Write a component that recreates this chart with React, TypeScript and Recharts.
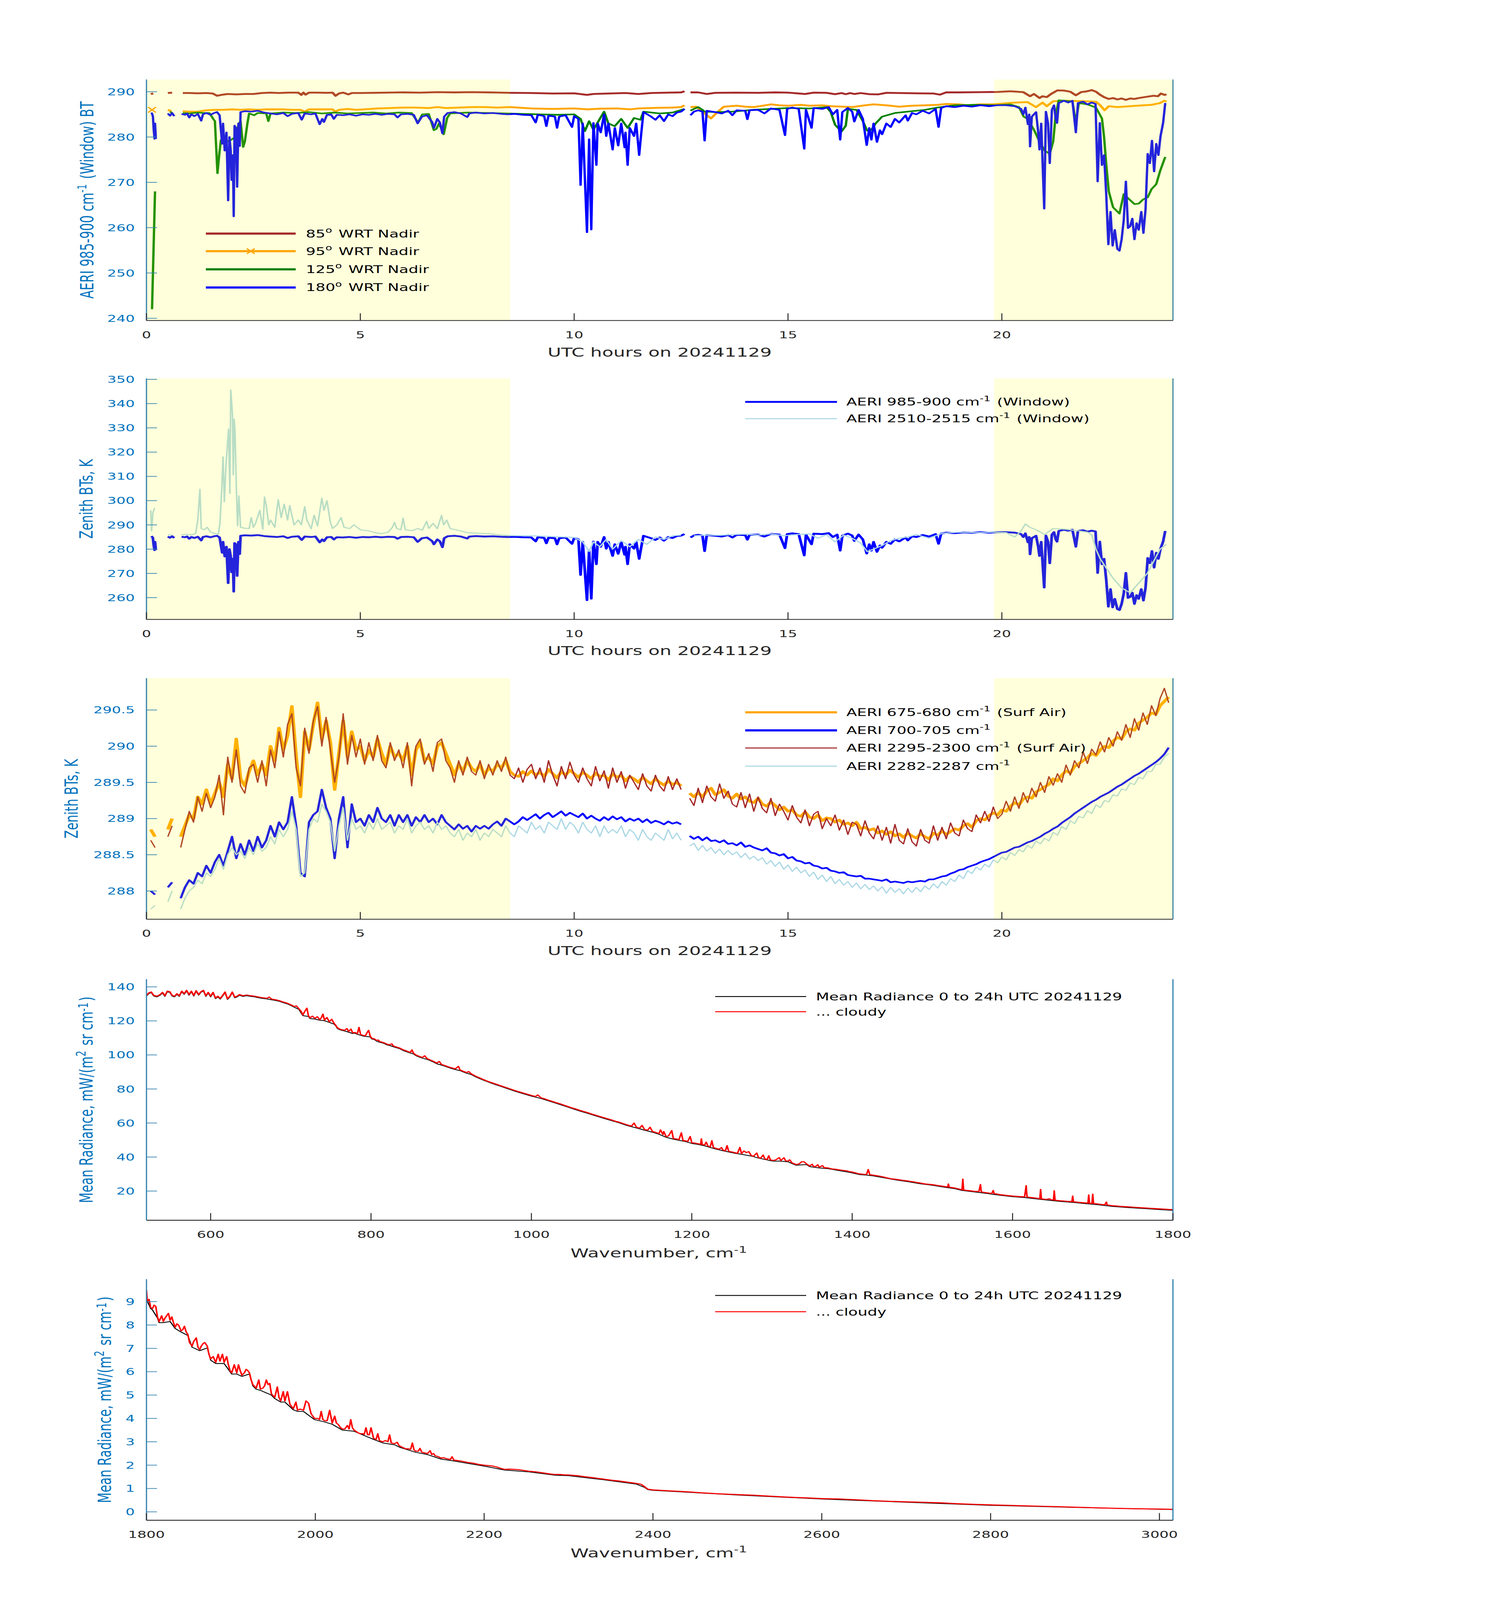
import React from 'react'
import { LineChart, Line, XAxis, YAxis, ReferenceArea, ReferenceLine } from 'recharts'

document.body.style.margin = '0'

type Pt = [number, number | null]

// Panel 1: AERI 985-900 cm-1 window BT at four scene mirror angles (hour, K)
const bt85: Pt[] = [
  [0.1, 289.5], [0.16, 289.6], [0.3, null], [0.5, 289.7], [0.6, 289.8], [0.7, null],
  [0.85, 289.7], [1.0, 289.7], [1.2, 289.65], [1.4, 289.7], [1.55, 289.6], [1.65, 289.1], [1.75, 289.3],
  [1.9, 289.5], [2.1, 289.4], [2.3, 289.5], [2.5, 289.5], [2.7, 289.7], [2.9, 289.8], [3.1, 289.7],
  [3.3, 289.8], [3.55, 289.8], [3.62, 289.3], [3.67, 289.8], [3.72, 289.35], [3.8, 289.8], [4.0, 289.8],
  [4.2, 289.75], [4.35, 289.8], [4.42, 289.1], [4.5, 289.6], [4.6, 289.8], [4.72, 289.4], [4.8, 289.7],
  [5.0, 289.7], [5.3, 289.75], [5.6, 289.8], [6.0, 289.85], [6.4, 289.8], [6.8, 289.9], [7.2, 289.85],
  [7.6, 289.9], [8.0, 289.85], [8.5, 289.75], [9.0, 289.7], [9.5, 289.6], [10.0, 289.65], [10.3, 289.3],
  [10.45, 289.5], [10.8, 289.6], [11.2, 289.7], [11.5, 289.5], [11.8, 289.7], [12.2, 289.8], [12.5, 289.85],
  [12.58, 290.1], [12.65, null], [12.72, 289.85], [12.9, 289.85], [13.1, 289.5], [13.3, 289.75], [13.8, 289.8],
  [14.3, 289.75], [14.7, 289.85], [15.0, 289.8], [15.4, 289.5], [15.6, 289.8], [15.9, 289.75], [16.1, 289.45],
  [16.25, 289.7], [16.35, 289.45], [16.45, 289.7], [16.55, 289.5], [16.7, 289.7], [16.9, 289.45], [17.1, 289.4],
  [17.3, 289.75], [17.6, 289.7], [18.0, 289.65], [18.4, 289.6], [18.55, 289.35], [18.7, 289.85], [19.0, 289.85],
  [19.5, 289.9], [19.9, 289.95], [20.2, 290.1], [20.5, 289.9], [20.66, 289.0], [20.75, 289.5], [20.88, 288.6],
  [20.95, 289.0], [21.05, 288.8], [21.15, 289.5], [21.3, 290.3], [21.45, 290.25], [21.6, 290.0], [21.73, 289.2],
  [21.85, 289.9], [22.0, 290.1], [22.1, 290.35], [22.2, 290.0], [22.3, 289.3], [22.39, 288.8], [22.5, 288.4],
  [22.6, 288.6], [22.7, 288.3], [22.8, 288.5], [22.9, 288.2], [23.0, 288.5], [23.1, 288.4], [23.2, 288.6],
  [23.4, 288.9], [23.55, 289.1], [23.65, 289.0], [23.72, 289.6], [23.8, 289.3], [23.85, 289.4],
]

const bt95: Pt[] = [
  [0.13, 286.0], [0.2, null], [0.5, 286.0], [0.58, 285.7], [0.7, null],
  [0.85, 285.7], [1.0, 285.6], [1.2, 285.6], [1.4, 285.9], [1.6, 286.0], [1.8, 286.0], [2.0, 286.1],
  [2.2, 286.0], [2.4, 286.1], [2.6, 286.0], [2.8, 286.1], [3.0, 286.1], [3.2, 286.1], [3.4, 286.0],
  [3.6, 286.0], [3.7, 285.6], [3.8, 286.1], [4.0, 286.1], [4.2, 286.1], [4.35, 286.1], [4.42, 285.6],
  [4.5, 286.0], [4.7, 286.2], [4.9, 286.0], [5.1, 286.1], [5.4, 286.3], [5.7, 286.4], [6.0, 286.5],
  [6.3, 286.5], [6.6, 286.4], [6.8, 286.6], [7.0, 286.4], [7.3, 286.5], [7.6, 286.6], [7.9, 286.6],
  [8.2, 286.5], [8.5, 286.6], [9.0, 286.3], [9.5, 286.2], [10.0, 286.3], [10.3, 286.1], [10.6, 286.25],
  [11.0, 286.3], [11.3, 286.1], [11.5, 286.3], [12.0, 286.45], [12.3, 286.5], [12.5, 286.6], [12.58, 287.0],
  [12.65, null], [12.72, 286.6], [12.85, 286.7], [12.95, 286.0], [13.1, 284.8], [13.2, 284.1], [13.35, 285.5],
  [13.5, 286.7], [13.8, 286.9], [14.0, 286.7], [14.2, 286.6], [14.4, 286.9], [14.6, 287.2], [14.8, 287.0],
  [15.0, 286.9], [15.3, 287.1], [15.5, 286.9], [15.8, 287.0], [16.0, 286.8], [16.3, 286.7], [16.5, 286.6],
  [16.8, 287.0], [17.0, 287.2], [17.3, 287.0], [17.6, 286.7], [17.9, 286.9], [18.2, 287.0], [18.5, 287.1],
  [18.7, 287.3], [19.0, 287.2], [19.2, 287.0], [19.5, 287.2], [19.8, 287.2], [20.3, 287.6], [20.6, 287.7],
  [20.8, 286.6], [20.95, 287.6], [21.05, 286.8], [21.2, 287.9], [21.5, 288.0], [21.9, 287.9], [22.2, 287.8],
  [22.3, 287.0], [22.4, 285.9], [22.5, 286.8], [22.7, 286.6], [23.0, 286.8], [23.3, 287.0], [23.5, 287.1],
  [23.7, 287.5], [23.8, 288.0], [23.85, 287.8],
]

const bt125: Pt[] = [
  [0.13, 242.0], [0.2, 268.0], [0.3, null], [0.55, 285.6], [0.6, 285.3], [0.7, null],
  [0.85, 285.3], [1.0, 285.2], [1.2, 285.4], [1.35, 285.3], [1.47, 285.3], [1.52, 284.6], [1.56, 284.0],
  [1.6, 283.5], [1.66, 272.0], [1.7, 276.0], [1.74, 279.3], [1.8, 280.0], [1.9, 279.0], [2.0, 279.5],
  [2.08, 280.0], [2.16, 283.0], [2.2, 283.5], [2.26, 277.8], [2.3, 279.0], [2.36, 283.0], [2.4, 285.2],
  [2.52, 284.8], [2.6, 285.3], [2.8, 285.2], [2.85, 283.5], [2.9, 285.2], [3.2, 285.4], [3.5, 285.3],
  [3.8, 285.5], [4.1, 285.2], [4.4, 285.4], [4.7, 285.2], [5.0, 285.3], [5.3, 285.4], [5.6, 285.2],
  [5.9, 285.4], [6.2, 285.3], [6.35, 283.2], [6.45, 285.0], [6.6, 285.1], [6.72, 281.5], [6.78, 281.8],
  [6.84, 283.0], [6.95, 280.6], [7.03, 284.2], [7.1, 285.2], [7.5, 285.4], [8.0, 285.3], [8.45, 285.2],
  [8.8, 285.1], [9.2, 285.0], [9.6, 284.9], [10.0, 285.0], [10.15, 284.0], [10.25, 281.3], [10.35, 283.5],
  [10.45, 281.6], [10.55, 283.2], [10.7, 285.6], [10.8, 283.0], [10.95, 282.4], [11.1, 284.0], [11.25, 282.0],
  [11.4, 284.2], [11.55, 283.8], [11.62, 285.6], [12.0, 285.2], [12.3, 285.4], [12.58, 286.2], [12.65, null],
  [12.72, 285.8], [12.8, 286.2], [12.9, 286.6], [13.0, 286.0], [13.05, 285.6], [13.3, 285.5], [13.7, 285.6],
  [14.2, 286.0], [14.6, 286.2], [15.0, 286.4], [15.5, 286.3], [15.9, 286.6], [16.0, 285.5], [16.1, 282.7],
  [16.25, 281.2], [16.35, 282.5], [16.4, 286.2], [16.6, 286.0], [16.75, 283.5], [16.85, 281.4], [16.95, 281.6],
  [17.05, 283.0], [17.2, 284.5], [17.5, 285.3], [17.8, 285.6], [18.2, 286.0], [18.5, 286.5], [18.9, 287.0],
  [19.4, 287.1], [19.8, 287.0], [20.2, 287.2], [20.4, 286.6], [20.51, 284.5], [20.6, 284.0], [20.75, 281.6],
  [20.88, 279.0], [21.0, 277.0], [21.12, 276.3], [21.2, 279.0], [21.26, 285.0], [21.33, 288.1], [21.5, 288.0],
  [21.65, 287.8], [21.73, 283.2], [21.8, 287.5], [22.0, 287.2], [22.2, 286.5], [22.34, 284.1], [22.39, 280.0],
  [22.44, 274.0], [22.5, 268.0], [22.6, 264.5], [22.75, 263.1], [22.85, 267.4], [22.95, 266.5], [23.1, 265.2],
  [23.2, 265.3], [23.3, 266.2], [23.41, 266.7], [23.5, 268.5], [23.61, 269.6], [23.7, 272.5], [23.82, 275.6],
]

const bt180: Pt[] = [
  [0.12, 285.4], [0.15, 284.6], [0.17, 281.5], [0.19, 279.6], [0.2, 283.0], [0.22, 279.6], [0.3, null],
  [0.5, 285.2], [0.55, 284.7], [0.6, 285.3], [0.65, 284.6], [0.7, null],
  [0.82, 285.1], [0.9, 284.9], [0.95, 285.2], [1.0, 284.3], [1.05, 285.0], [1.12, 284.6], [1.2, 285.1],
  [1.28, 283.6], [1.32, 285.0], [1.4, 285.3], [1.5, 284.9], [1.58, 285.3], [1.65, 285.5], [1.71, 284.8],
  [1.77, 278.5], [1.79, 283.0], [1.83, 277.0], [1.87, 281.0], [1.91, 266.0], [1.94, 280.0], [1.97, 277.0],
  [1.99, 270.5], [2.02, 276.0], [2.04, 262.5], [2.06, 282.5], [2.09, 282.0], [2.12, 269.0], [2.15, 283.0],
  [2.18, 278.0], [2.2, 285.5], [2.3, 285.7], [2.45, 285.6], [2.6, 285.8], [2.75, 285.4], [2.9, 285.2],
  [3.05, 285.0], [3.2, 285.3], [3.3, 284.6], [3.4, 285.1], [3.55, 285.3], [3.63, 283.8], [3.7, 285.2],
  [3.85, 285.0], [3.95, 285.2], [4.05, 282.8], [4.11, 284.0], [4.15, 283.3], [4.22, 284.9], [4.32, 285.0],
  [4.38, 284.0], [4.45, 284.9], [4.6, 284.8], [4.75, 285.0], [4.9, 284.7], [5.05, 285.0], [5.2, 284.9],
  [5.35, 285.1], [5.5, 284.9], [5.65, 285.1], [5.8, 285.0], [5.87, 284.3], [5.95, 285.0], [6.1, 285.1],
  [6.25, 284.9], [6.34, 283.0], [6.44, 284.5], [6.56, 284.8], [6.68, 283.3], [6.72, 282.0], [6.8, 284.0],
  [6.86, 283.2], [6.92, 280.8], [6.96, 284.5], [7.04, 285.3], [7.2, 285.5], [7.35, 285.2], [7.5, 284.4],
  [7.55, 285.2], [7.7, 285.4], [7.9, 285.2], [8.1, 285.3], [8.3, 285.1], [8.45, 285.0],
  [8.6, 285.1], [8.8, 284.9], [9.0, 284.8], [9.1, 283.2], [9.15, 284.9], [9.3, 284.6], [9.35, 282.4],
  [9.4, 284.7], [9.55, 284.5], [9.6, 282.0], [9.65, 284.5], [9.8, 284.8], [9.95, 282.2], [10.0, 284.6],
  [10.1, 284.0], [10.15, 269.4], [10.2, 283.0], [10.3, 259.0], [10.35, 279.5], [10.4, 259.6], [10.45, 283.1],
  [10.52, 273.8], [10.55, 283.0], [10.62, 281.0], [10.7, 285.0], [10.75, 280.2], [10.8, 283.0], [10.9, 277.2],
  [10.95, 282.0], [11.03, 278.1], [11.1, 283.0], [11.18, 277.7], [11.2, 281.0], [11.25, 273.8], [11.3, 282.0],
  [11.4, 280.2], [11.45, 283.0], [11.52, 276.0], [11.56, 280.0], [11.62, 285.5], [11.8, 284.5], [11.9, 283.8],
  [12.0, 284.8], [12.1, 283.5], [12.2, 285.0], [12.3, 284.6], [12.4, 285.4], [12.5, 285.6], [12.58, 286.2],
  [12.65, null], [12.72, 284.8], [12.8, 285.6], [12.9, 285.9], [13.0, 285.6], [13.05, 279.2], [13.1, 285.8],
  [13.3, 285.5], [13.45, 285.2], [13.6, 285.8], [13.7, 284.8], [13.8, 285.9], [14.0, 285.8], [14.05, 283.9],
  [14.1, 285.9], [14.3, 286.0], [14.45, 285.2], [14.6, 286.3], [14.8, 286.0], [14.93, 280.4], [14.98, 286.2],
  [15.1, 286.5], [15.25, 286.2], [15.38, 277.4], [15.42, 286.0], [15.55, 282.0], [15.6, 286.4], [15.8, 286.2],
  [15.95, 286.6], [16.05, 285.0], [16.15, 286.0], [16.22, 279.4], [16.27, 285.5], [16.4, 286.4], [16.5, 285.6],
  [16.55, 283.4], [16.65, 286.0], [16.75, 284.0], [16.84, 278.2], [16.9, 282.0], [16.95, 279.4], [17.0, 283.0],
  [17.08, 278.9], [17.15, 281.5], [17.2, 280.6], [17.3, 283.0], [17.4, 282.2], [17.5, 284.0], [17.6, 283.2],
  [17.75, 284.8], [17.8, 283.6], [17.9, 285.3], [18.0, 285.0], [18.15, 285.8], [18.3, 285.2], [18.45, 286.2],
  [18.52, 282.2], [18.58, 286.4], [18.7, 286.8], [18.9, 286.6], [19.1, 286.9], [19.3, 286.7], [19.5, 287.0],
  [19.7, 286.8], [19.9, 287.0], [20.1, 287.0], [20.3, 286.8], [20.45, 286.2], [20.5, 285.0], [20.55, 286.5],
  [20.61, 282.8], [20.64, 285.0], [20.66, 277.9], [20.7, 284.5], [20.8, 285.5], [20.85, 281.0], [20.88, 277.2],
  [20.92, 283.0], [20.99, 264.2], [21.03, 285.6], [21.08, 283.0], [21.12, 274.2], [21.17, 286.0], [21.22, 287.0],
  [21.26, 284.0], [21.29, 283.1], [21.33, 287.5], [21.45, 288.0], [21.55, 287.6], [21.65, 288.0], [21.73, 281.0],
  [21.78, 287.5], [21.9, 287.8], [22.0, 287.2], [22.1, 287.6], [22.19, 287.3], [22.24, 270.2], [22.29, 283.1],
  [22.34, 273.8], [22.39, 276.0], [22.44, 267.4], [22.49, 256.3], [22.54, 263.5], [22.59, 256.0], [22.64, 259.5],
  [22.7, 255.3], [22.75, 254.9], [22.8, 257.4], [22.85, 261.7], [22.9, 270.2], [22.95, 259.9], [23.0, 260.3],
  [23.05, 262.0], [23.1, 257.4], [23.15, 261.0], [23.2, 259.5], [23.26, 263.5], [23.31, 258.8], [23.36, 264.1],
  [23.41, 276.3], [23.46, 274.2], [23.51, 279.2], [23.56, 272.4], [23.61, 278.5], [23.66, 276.0], [23.71, 280.2],
  [23.77, 283.1], [23.82, 287.5],
]

// Panel 2: shortwave window channel (the longwave window is bt180 again)
const bt2510: Pt[] = [
  [0.1, 296.0], [0.12, 287.5], [0.15, 295.0], [0.19, 297.0], [0.25, null], [0.5, 286.0], [0.6, 285.8],
  [0.7, null], [0.82, 286.0], [0.95, 286.1], [1.05, 285.9], [1.15, 286.5], [1.2, 292.0], [1.25, 304.7],
  [1.28, 288.5], [1.35, 288.0], [1.42, 289.0], [1.5, 287.0], [1.6, 286.5], [1.68, 286.2], [1.72, 291.0],
  [1.76, 305.0], [1.79, 318.0], [1.82, 299.5], [1.86, 315.0], [1.92, 329.5], [1.95, 303.0], [1.97, 345.6],
  [1.99, 341.0], [2.01, 335.5], [2.03, 310.6], [2.05, 333.6], [2.07, 328.3], [2.1, 306.3], [2.13, 289.6],
  [2.16, 302.0], [2.2, 289.0], [2.3, 288.6], [2.4, 288.5], [2.45, 293.0], [2.5, 289.0], [2.55, 290.6],
  [2.65, 296.0], [2.72, 288.2], [2.76, 301.5], [2.8, 298.0], [2.86, 290.0], [2.9, 292.0], [3.0, 289.0],
  [3.08, 300.4], [3.15, 293.0], [3.22, 298.5], [3.3, 292.0], [3.35, 298.0], [3.45, 290.0], [3.55, 292.0],
  [3.62, 290.0], [3.7, 297.5], [3.75, 292.0], [3.85, 288.4], [3.92, 294.0], [4.0, 289.5], [4.1, 301.0],
  [4.15, 296.0], [4.22, 300.0], [4.3, 291.0], [4.35, 288.5], [4.45, 290.0], [4.55, 293.0], [4.62, 289.0],
  [4.75, 288.5], [4.85, 290.0], [5.0, 288.0], [5.2, 287.5], [5.35, 286.8], [5.5, 286.4], [5.65, 287.0],
  [5.75, 289.0], [5.8, 291.0], [5.85, 288.5], [5.95, 288.0], [6.0, 292.8], [6.05, 288.0], [6.2, 287.6],
  [6.35, 288.5], [6.45, 287.8], [6.55, 291.5], [6.6, 288.5], [6.7, 290.6], [6.8, 288.4], [6.9, 293.9],
  [6.95, 290.0], [7.02, 292.0], [7.1, 288.5], [7.3, 287.7], [7.5, 286.8], [7.8, 286.5], [8.0, 286.4],
  [8.3, 285.8], [8.5, 285.6], [9.0, 285.5], [9.5, 285.2], [10.0, 284.8], [10.2, 283.0], [10.35, 279.0],
  [10.45, 283.0], [10.6, 281.0], [10.75, 284.0], [10.9, 280.0], [11.1, 283.5], [11.3, 281.0], [11.5, 284.0],
  [11.7, 282.0], [11.9, 285.0], [12.1, 284.0], [12.3, 285.5], [12.5, 285.8], [12.65, null], [12.8, 285.5],
  [13.1, 285.8], [13.4, 285.7], [13.7, 286.0], [14.0, 286.2], [14.3, 285.8], [14.6, 286.3], [14.9, 285.5],
  [15.2, 286.0], [15.5, 286.3], [15.7, 284.5], [15.9, 285.9], [16.1, 283.0], [16.3, 285.8], [16.5, 284.5],
  [16.7, 282.5], [16.85, 279.0], [17.0, 280.0], [17.2, 281.5], [17.4, 283.5], [17.6, 284.5], [17.8, 285.0],
  [18.0, 286.0], [18.3, 284.5], [18.6, 286.5], [19.0, 287.0], [19.4, 286.8], [19.8, 287.0], [20.1, 286.8],
  [20.3, 285.0], [20.45, 287.5], [20.55, 290.4], [20.65, 289.0], [20.8, 288.0], [21.0, 286.0], [21.2, 288.5],
  [21.5, 288.2], [21.8, 287.5], [22.0, 287.0], [22.1, 286.0], [22.2, 280.0], [22.3, 276.0], [22.45, 272.0],
  [22.6, 268.0], [22.8, 264.0], [23.0, 262.0], [23.2, 266.0], [23.4, 270.0], [23.55, 275.0], [23.7, 280.0],
  [23.85, 282.0],
]

// Panel 3: samples every 0.1 h from 0 h (K), null = no data
const P3_STEP = 0.1
const bt675: (number | null)[] = [
  null, 288.85, 288.75, null, null, 288.85, 289.0, null, 288.75, 288.9,
  289.05, 289.0, 289.3, 289.2, 289.4, 289.2, 289.35, 289.5, 289.3, 289.75,
  289.55, 290.1, 289.55, 289.45, 289.65, 289.8, 289.6, 289.75, 289.6, 290.0,
  289.8, 290.25, 289.95, 290.15, 290.55, 289.85, 289.3, 290.2, 289.95, 290.3,
  290.6, 290.1, 290.35, 290.05, 289.4, 289.9, 290.35, 289.85, 290.2, 289.95,
  290.0, 289.8, 289.95, 289.85, 290.1, 289.9, 289.75, 290.0, 289.85, 289.9,
  289.8, 290.0, 289.6, 289.95, 290.05, 289.8, 289.85, 289.75, 290.0, 290.05,
  289.9, 289.75, 289.6, 289.75, 289.65, 289.8, 289.7, 289.65, 289.75, 289.6,
  289.7, 289.65, 289.75, 289.7, 289.8, 289.65, 289.6, 289.58, 289.65, 289.6,
  289.66, 289.6, 289.64, 289.58, 289.68, 289.62, 289.56, 289.65, 289.6, 289.67,
  289.62, 289.57, 289.64, 289.6, 289.55, 289.63, 289.58, 289.6, 289.53, 289.62,
  289.57, 289.6, 289.52, 289.58, 289.55, 289.5, 289.57, 289.52, 289.48, 289.55,
  289.5, 289.46, 289.52, 289.47, 289.5, 289.45, null, 289.35, 289.3, 289.36,
  289.3, 289.38, 289.42, 289.33, 289.36, 289.4, 289.31, 289.28, 289.34, 289.27,
  289.3, 289.24, 289.22, 289.28, 289.2, 289.17, 289.23, 289.18, 289.12, 289.16,
  289.1, 289.12, 289.05, 289.03, 289.09, 289.02, 289.0, 289.05, 288.97, 289.01,
  289.0, 288.95, 288.98, 288.92, 288.94, 288.9, 288.95, 288.86, 288.88, 288.84,
  288.86, 288.8, 288.83, 288.78, 288.82, 288.76, 288.79, 288.74, 288.8, 288.76,
  288.73, 288.79, 288.75, 288.72, 288.8, 288.77, 288.83, 288.78, 288.82, 288.86,
  288.84, 288.9, 288.93, 288.88, 288.97, 289.0, 288.98, 289.04, 289.08, 289.05,
  289.12, 289.1, 289.17, 289.22, 289.19, 289.27, 289.3, 289.28, 289.37, 289.4,
  289.44, 289.47, 289.55, 289.52, 289.6, 289.66, 289.63, 289.72, 289.76, 289.8,
  289.84, 289.9, 289.87, 289.95, 290.0, 289.98, 290.07, 290.12, 290.1, 290.2,
  290.24, 290.22, 290.32, 290.36, 290.4, 290.46, 290.44, 290.56, 290.62, 290.68,
]

const bt700: (number | null)[] = [
  null, 288.0, 287.95, null, null, 288.05, 288.12, null, 287.9, 288.05,
  288.15, 288.1, 288.25, 288.2, 288.35, 288.25, 288.4, 288.5, 288.35, 288.55,
  288.75, 288.45, 288.65, 288.5, 288.7, 288.55, 288.75, 288.6, 288.7, 288.9,
  288.75, 288.95, 288.85, 288.95, 289.3, 288.9, 288.25, 288.2, 288.95, 289.05,
  289.1, 289.4, 289.15, 289.0, 288.45, 289.0, 289.3, 288.6, 289.2, 288.95,
  289.0, 288.9, 289.05, 288.95, 289.15, 289.0, 288.95, 289.05, 288.9, 289.05,
  288.95, 289.05, 288.9, 289.02, 288.95, 289.05, 288.95, 289.0, 288.92, 289.05,
  288.95, 288.9, 288.85, 288.92, 288.86, 288.9, 288.82, 288.9, 288.86, 288.9,
  288.86, 288.92, 288.96, 288.9, 289.0, 288.96, 288.92, 288.96, 289.02, 288.98,
  289.02, 289.06, 289.0, 289.05, 289.08, 289.02, 289.06, 289.1, 289.04, 289.08,
  289.05, 289.02, 289.07, 289.0, 289.04, 289.0, 288.97, 289.02, 288.98, 289.03,
  288.99, 289.02, 288.96, 289.0, 288.97, 289.0, 288.95, 288.99, 288.94, 288.97,
  288.95, 288.92, 288.96, 288.93, 288.95, 288.92, null, 288.76, 288.72, 288.75,
  288.7, 288.74, 288.69, 288.7, 288.67, 288.7, 288.65, 288.66, 288.63, 288.67,
  288.61, 288.63, 288.6, 288.58, 288.56, 288.59, 288.53, 288.52, 288.49, 288.51,
  288.45, 288.47, 288.42, 288.41, 288.38, 288.39, 288.35, 288.34, 288.31, 288.32,
  288.28, 288.27, 288.25, 288.26, 288.22, 288.21, 288.2, 288.21, 288.17, 288.17,
  288.16, 288.15, 288.14, 288.16, 288.12, 288.13, 288.12, 288.11, 288.13, 288.12,
  288.13, 288.14, 288.13, 288.16, 288.16, 288.18, 288.2, 288.21, 288.24, 288.26,
  288.29, 288.3, 288.33, 288.35, 288.37, 288.4, 288.42, 288.44, 288.47, 288.5,
  288.53, 288.54, 288.57, 288.6, 288.61, 288.64, 288.67, 288.69, 288.72, 288.75,
  288.79, 288.82, 288.86, 288.89, 288.94, 288.98, 289.02, 289.07, 289.11, 289.15,
  289.19, 289.23, 289.26, 289.3, 289.33, 289.36, 289.4, 289.44, 289.47, 289.51,
  289.55, 289.59, 289.62, 289.66, 289.7, 289.74, 289.78, 289.83, 289.89, 289.98,
]

const bt2295: (number | null)[] = [
  null, 288.7, 288.6, null, null, 288.75, 288.9, null, 288.6, 288.85,
  289.1, 288.95, 289.3, 289.1, 289.35, 289.15, 289.3, 289.6, 289.05, 289.85,
  289.5, 289.95, 289.45, 289.35, 289.7, 289.75, 289.5, 289.8, 289.45, 289.95,
  289.7, 290.2, 289.85, 290.3, 290.45, 289.7, 289.45, 290.25, 289.9, 290.35,
  290.55, 290.0, 290.4, 289.95, 289.5, 289.85, 290.45, 289.75, 290.15, 289.85,
  290.1, 289.75, 290.05, 289.8, 290.15, 289.8, 289.7, 290.05, 289.8, 289.95,
  289.7, 290.05, 289.45, 290.0, 290.1, 289.75, 289.9, 289.65, 290.05, 290.1,
  289.8, 289.7, 289.5, 289.8, 289.6, 289.85, 289.65, 289.6, 289.8, 289.55,
  289.75, 289.6, 289.8, 289.65, 289.85, 289.6, 289.55, 289.7, 289.5, 289.68,
  289.75, 289.55, 289.7, 289.5, 289.8, 289.6, 289.45, 289.72, 289.55, 289.78,
  289.6, 289.5, 289.7, 289.55, 289.45, 289.72, 289.52, 289.66, 289.42, 289.7,
  289.5, 289.65, 289.42, 289.6, 289.5, 289.4, 289.62, 289.45, 289.38, 289.6,
  289.45, 289.38, 289.58, 289.4, 289.55, 289.4, null, 289.28, 289.18, 289.42,
  289.22, 289.45, 289.3, 289.24, 289.48, 289.28, 289.38, 289.2, 289.16, 289.36,
  289.15, 289.34, 289.1, 289.3, 289.14, 289.08, 289.28, 289.04, 289.2, 289.1,
  288.98, 289.18, 289.02, 288.94, 289.12, 288.9, 289.06, 289.1, 288.86, 289.0,
  288.9, 289.05, 288.84, 288.98, 288.78, 288.95, 288.92, 288.76, 288.97, 288.8,
  288.72, 288.9, 288.7, 288.88, 288.66, 288.92, 288.7, 288.65, 288.86, 288.68,
  288.62, 288.85, 288.7, 288.66, 288.9, 288.7, 288.88, 288.72, 288.94, 288.8,
  288.76, 288.98, 288.86, 288.82, 289.05, 288.94, 289.1, 288.96, 289.16, 289.0,
  289.06, 289.24, 289.1, 289.3, 289.14, 289.36, 289.22, 289.42, 289.3, 289.5,
  289.36, 289.58, 289.46, 289.62, 289.5, 289.74, 289.6, 289.8, 289.7, 289.92,
  289.76, 289.96, 289.88, 290.06, 289.92, 290.12, 290.0, 290.2, 290.08, 290.3,
  290.12, 290.38, 290.22, 290.46, 290.3, 290.56, 290.42, 290.66, 290.8, 290.6,
]

const bt2282: (number | null)[] = [
  null, 287.75, 287.8, null, null, 287.85, 288.0, null, 287.75, 287.9,
  288.0, 288.05, 288.15, 288.1, 288.25, 288.2, 288.3, 288.45, 288.3, 288.5,
  288.6, 288.5, 288.55, 288.45, 288.6, 288.5, 288.65, 288.55, 288.6, 288.75,
  288.65, 288.85, 288.75, 288.85, 289.1, 288.85, 288.2, 288.25, 288.85, 289.0,
  288.95, 289.2, 289.1, 288.95, 288.55, 288.9, 289.15, 288.7, 289.0, 288.85,
  288.9, 288.8, 288.95, 288.85, 289.0, 288.85, 288.9, 288.95, 288.8, 288.9,
  288.85, 289.0, 288.8, 288.9, 288.95, 288.85, 288.9, 288.8, 288.95, 288.85,
  288.9, 288.8, 288.75, 288.85, 288.7, 288.8, 288.75, 288.85, 288.7, 288.8,
  288.75, 288.85, 288.8, 288.75, 288.9, 288.8, 288.75, 288.9, 288.85, 288.8,
  288.95, 288.85, 288.9, 288.8, 288.95, 288.9, 288.85, 289.0, 288.85, 288.95,
  288.9, 288.8, 288.95, 288.85, 288.8, 288.9, 288.75, 288.9, 288.8, 288.85,
  288.8, 288.9, 288.75, 288.85, 288.8, 288.7, 288.85, 288.75, 288.7, 288.8,
  288.75, 288.7, 288.85, 288.72, 288.8, 288.7, null, 288.62, 288.66, 288.56,
  288.63, 288.55, 288.6, 288.52, 288.58, 288.5, 288.56, 288.5, 288.54, 288.46,
  288.52, 288.44, 288.48, 288.42, 288.46, 288.37, 288.42, 288.34, 288.4, 288.3,
  288.36, 288.27, 288.33, 288.25, 288.29, 288.2, 288.26, 288.16, 288.22, 288.13,
  288.2, 288.1, 288.16, 288.08, 288.13, 288.05, 288.11, 288.03, 288.09, 288.02,
  288.07, 288.0, 288.06, 287.97, 288.05, 287.98, 288.03, 287.96, 288.04, 287.98,
  288.05, 287.99, 288.07, 288.02, 288.1, 288.04, 288.13, 288.08, 288.17, 288.13,
  288.22, 288.17, 288.28, 288.24, 288.33, 288.29, 288.37, 288.33, 288.43, 288.39,
  288.47, 288.43, 288.53, 288.49, 288.57, 288.54, 288.63, 288.59, 288.69, 288.65,
  288.73, 288.69, 288.81, 288.77, 288.89, 288.85, 288.97, 288.93, 289.03, 289.01,
  289.11, 289.07, 289.19, 289.15, 289.25, 289.23, 289.33, 289.31, 289.41, 289.39,
  289.49, 289.47, 289.57, 289.55, 289.65, 289.65, 289.75, 289.75, 289.85, 289.9,
]

// Panel 4: mean radiance spectrum 520-1800 cm-1 (wavenumber, mW/(m2 sr cm-1))
const radAllLw: Pt[] = [
  [520, 134.6], [523, 136.1], [526, 136.6], [529, 134.6], [533, 134.1], [537, 135.1], [540, 136.4],
  [543, 134.4], [546, 137.1], [549, 136.8], [552, 134.6], [555, 134.1], [558, 135.6], [561, 134.4],
  [564, 137.1], [567, 135.6], [570, 137.6], [573, 135.1], [576, 137.1], [579, 134.6], [582, 137.4],
  [585, 135.1], [588, 136.8], [591, 137.6], [594, 134.4], [597, 136.4], [600, 134.1], [603, 136.4],
  [606, 133.1], [609, 134.1], [612, 132.8], [615, 134.6], [618, 136.6], [621, 132.6], [624, 134.1],
  [627, 136.6], [630, 133.6], [633, 134.1], [636, 135.1], [640, 134.4], [645, 134.8], [650, 134.4],
  [655, 134.1], [660, 133.6], [665, 133.2], [670, 132.9], [676, 132.4], [680, 132.1], [685, 131.6],
  [690, 130.8], [695, 130.1], [700, 129.1], [704, 128.1], [710, 126.8], [715, 123.1], [722, 122.6],
  [724, 121.4], [730, 121.1], [736, 120.4], [742, 120.1], [748, 119.1], [754, 118.1], [756, 117.1],
  [758, 115.6], [761, 114.8], [764, 114.4], [767, 114.1], [772, 113.4], [777, 112.6], [780, 112.8],
  [783, 112.1], [787, 111.6], [790, 111.1], [793, 110.9], [799, 110.6], [801, 109.4], [804, 109.1],
  [807, 108.1], [811, 107.4], [814, 107.1], [817, 106.6], [820, 105.9], [823, 105.6], [828, 104.8],
  [832, 104.2], [836, 103.6], [840, 102.6], [846, 101.6], [849, 101.1], [853, 100.6], [856, 99.6],
  [860, 98.8], [864, 98.1], [870, 97.4], [874, 96.6], [878, 95.8], [882, 94.8], [888, 94.0],
  [892, 93.4], [896, 92.7], [900, 92.1], [905, 91.4], [911, 90.8], [915, 90.0], [919, 89.3],
  [925, 88.5], [930, 87.2], [940, 85.2], [950, 83.4], [960, 81.8], [970, 80.2], [980, 78.6],
  [990, 77.2], [1000, 75.8], [1012, 74.4], [1020, 73.2], [1030, 71.7], [1040, 70.2], [1050, 68.6],
  [1060, 67.1], [1070, 65.7], [1080, 64.2], [1090, 62.8], [1100, 61.4], [1110, 60.0], [1120, 58.4],
  [1131, 57.1], [1141, 55.8], [1151, 54.6], [1159, 53.4], [1168, 51.6], [1177, 50.5], [1184, 49.8],
  [1192, 49.1], [1200, 48.0], [1208, 47.4], [1216, 46.6], [1223, 45.6], [1231, 44.6], [1239, 43.7],
  [1246, 43.0], [1254, 42.2], [1262, 41.6], [1274, 40.6], [1283, 39.4], [1291, 38.6], [1298, 37.9],
  [1302, 37.6], [1311, 37.6], [1320, 37.2], [1325, 36.2], [1330, 35.2], [1343, 35.6], [1347, 34.4],
  [1359, 33.6], [1370, 33.2], [1383, 32.1], [1397, 31.0], [1409, 29.7], [1418, 29.4], [1427, 28.9],
  [1440, 27.8], [1455, 26.5], [1470, 25.5], [1485, 24.3], [1500, 23.4], [1515, 22.3], [1528, 21.4],
  [1537, 20.4], [1552, 19.5], [1568, 18.6], [1585, 17.5], [1600, 16.7], [1615, 16.2], [1632, 15.3],
  [1648, 14.5], [1660, 13.9], [1676, 13.3], [1692, 12.6], [1708, 11.9], [1725, 11.0], [1745, 10.3],
  [1765, 9.7], [1785, 9.1], [1800, 8.7],
]

const radCloudyLw: Pt[] = [
  [520, 135.0], [523, 136.5], [526, 137.0], [529, 135.0], [533, 134.5], [537, 135.5], [540, 136.8],
  [543, 134.8], [546, 137.5], [549, 137.2], [552, 135.0], [555, 134.5], [558, 136.0], [561, 134.8],
  [564, 137.5], [567, 136.0], [570, 138.0], [573, 135.5], [576, 137.5], [579, 135.0], [582, 137.8],
  [585, 135.5], [588, 137.2], [591, 138.0], [594, 134.8], [597, 136.8], [600, 134.5], [603, 136.8],
  [606, 133.5], [609, 134.5], [612, 133.2], [615, 135.0], [618, 137.0], [621, 133.0], [624, 134.5],
  [627, 137.0], [630, 134.0], [633, 134.5], [636, 135.5], [640, 134.8], [645, 135.2], [650, 134.8],
  [655, 134.5], [660, 134.0], [665, 133.6], [670, 133.3], [673, 134.0], [676, 132.8], [680, 132.5],
  [685, 132.0], [690, 131.2], [695, 130.5], [700, 129.5], [704, 128.5], [707, 128.8], [710, 127.2],
  [713, 125.5], [715, 123.5], [717, 125.2], [720, 127.5], [722, 123.0], [724, 121.8], [727, 122.8],
  [730, 121.5], [733, 122.5], [736, 120.8], [738, 121.8], [740, 124.0], [742, 120.5], [745, 122.0],
  [748, 119.5], [751, 121.0], [754, 118.5], [756, 117.5], [758, 116.0], [761, 115.2], [764, 114.8],
  [767, 114.5], [770, 115.5], [772, 113.8], [775, 115.2], [777, 113.0], [780, 113.2], [783, 112.5],
  [785, 116.2], [787, 112.0], [790, 111.5], [793, 111.3], [795, 113.0], [797, 114.5], [799, 111.0],
  [801, 109.8], [804, 109.5], [807, 108.5], [809, 108.8], [811, 107.8], [814, 107.5], [817, 107.0],
  [820, 106.3], [823, 106.0], [826, 106.5], [828, 105.2], [832, 104.6], [836, 104.0], [840, 103.0],
  [843, 102.6], [846, 102.0], [849, 101.5], [851, 103.0], [853, 101.0], [856, 100.0], [860, 99.2],
  [864, 98.5], [867, 99.5], [870, 97.8], [874, 97.0], [878, 96.2], [882, 95.2], [885, 96.2],
  [888, 94.4], [892, 93.8], [896, 93.1], [900, 92.5], [905, 91.8], [909, 93.3], [911, 91.2],
  [915, 90.4], [919, 89.7], [922, 90.2], [925, 88.9], [930, 87.6], [935, 86.6], [940, 85.6],
  [945, 84.6], [950, 83.8], [955, 83.0], [960, 82.2], [965, 81.4], [970, 80.6], [975, 79.8],
  [980, 79.0], [985, 78.3], [990, 77.6], [995, 76.9], [1000, 76.2], [1005, 75.6], [1008, 76.5],
  [1012, 74.8], [1016, 74.3], [1020, 73.6], [1025, 72.9], [1030, 72.1], [1035, 71.4], [1040, 70.6],
  [1045, 69.8], [1050, 69.0], [1055, 68.3], [1060, 67.5], [1065, 66.8], [1070, 66.1], [1075, 65.3],
  [1080, 64.6], [1085, 63.9], [1090, 63.2], [1095, 62.5], [1100, 61.8], [1105, 61.0], [1110, 60.4],
  [1115, 59.6], [1120, 58.8], [1125, 58.2], [1128, 60.0], [1131, 57.5], [1135, 57.0], [1138, 58.6],
  [1141, 56.2], [1145, 55.8], [1148, 57.5], [1151, 55.0], [1155, 54.5], [1159, 53.8], [1161, 56.0],
  [1164, 53.2], [1165, 55.0], [1168, 52.0], [1171, 52.4], [1175, 55.6], [1177, 50.9], [1181, 50.6],
  [1184, 50.2], [1187, 54.3], [1189, 49.8], [1192, 49.5], [1195, 49.2], [1198, 52.1], [1200, 48.4],
  [1204, 48.2], [1208, 47.8], [1211, 47.5], [1212, 50.7], [1213, 47.4], [1216, 47.0], [1218, 48.8],
  [1220, 46.5], [1223, 46.0], [1225, 49.6], [1227, 45.6], [1231, 45.0], [1234, 44.6], [1237, 45.6],
  [1239, 44.1], [1242, 43.7], [1244, 46.7], [1246, 43.4], [1250, 43.0], [1254, 42.6], [1257, 42.2],
  [1260, 45.7], [1262, 42.0], [1265, 43.6], [1268, 42.6], [1271, 43.2], [1274, 41.0], [1277, 40.4],
  [1281, 42.4], [1283, 39.8], [1286, 39.4], [1289, 41.2], [1291, 39.0], [1294, 38.6], [1296, 40.8],
  [1298, 38.3], [1302, 38.0], [1305, 38.4], [1309, 39.7], [1311, 38.0], [1315, 39.6], [1317, 37.8],
  [1320, 37.6], [1322, 38.4], [1325, 36.6], [1330, 35.6], [1334, 36.0], [1337, 37.2], [1340, 37.2],
  [1343, 36.0], [1347, 34.8], [1350, 35.8], [1352, 34.4], [1355, 34.6], [1357, 35.5], [1359, 34.0],
  [1363, 35.0], [1365, 33.8], [1370, 33.6], [1375, 33.0], [1380, 32.8], [1383, 32.5], [1388, 32.2],
  [1393, 31.9], [1397, 31.4], [1400, 31.2], [1405, 30.6], [1409, 30.1], [1414, 29.9], [1418, 29.8],
  [1420, 32.7], [1422, 29.6], [1427, 29.3], [1431, 29.0], [1435, 28.7], [1440, 28.2], [1444, 27.7],
  [1448, 27.3], [1455, 26.9], [1462, 26.4], [1470, 25.9], [1478, 25.3], [1485, 24.7], [1491, 24.2],
  [1500, 23.8], [1508, 23.2], [1515, 22.7], [1519, 22.4], [1520, 24.2], [1521, 22.3], [1528, 21.8],
  [1535, 21.0], [1537, 20.8], [1538, 27.0], [1539, 20.6], [1545, 20.3], [1552, 19.9], [1558, 19.7],
  [1560, 23.9], [1561, 19.5], [1568, 19.0], [1574, 18.6], [1576, 20.4], [1577, 18.5], [1585, 17.9],
  [1592, 17.5], [1600, 17.1], [1608, 16.8], [1615, 16.6], [1617, 23.2], [1618, 16.5], [1625, 16.1],
  [1632, 15.7], [1634, 15.5], [1635, 21.0], [1636, 15.4], [1642, 15.1], [1646, 15.5], [1648, 14.9],
  [1651, 14.8], [1652, 20.2], [1653, 14.6], [1660, 14.3], [1668, 14.0], [1674, 13.8], [1675, 17.1],
  [1676, 13.7], [1685, 13.3], [1692, 13.0], [1694, 12.9], [1695, 17.7], [1696, 12.8], [1699, 12.8],
  [1700, 18.2], [1701, 12.7], [1708, 12.3], [1715, 11.9], [1717, 13.6], [1718, 11.8], [1725, 11.4],
  [1735, 11.0], [1745, 10.7], [1755, 10.4], [1765, 10.1], [1775, 9.8], [1785, 9.5], [1795, 9.2],
  [1800, 9.1],
]

// Panel 5: mean radiance spectrum 1800-3016 cm-1
const radAllSw: Pt[] = [
  [1800, 9.1], [1805, 8.7], [1807, 8.65], [1813, 8.3], [1815, 8.1], [1820, 8.1], [1828, 8.15],
  [1834, 7.85], [1841, 7.7], [1849, 7.55], [1854, 7.05], [1863, 6.9], [1872, 7.02], [1876, 6.5],
  [1882, 6.35], [1892, 6.35], [1901, 5.9], [1907, 5.9], [1913, 5.8], [1922, 5.9], [1926, 5.4],
  [1930, 5.25], [1935, 5.2], [1948, 5.0], [1952, 4.85], [1959, 4.7], [1964, 4.7], [1974, 4.37],
  [1979, 4.3], [1986, 4.3], [1999, 3.95], [2011, 3.85], [2020, 3.75], [2032, 3.5], [2046, 3.45],
  [2058, 3.27], [2069, 3.1], [2080, 2.95], [2094, 2.87], [2101, 2.75], [2110, 2.65], [2119, 2.55],
  [2133, 2.45], [2149, 2.26], [2164, 2.18], [2180, 2.08], [2200, 1.96], [2224, 1.79], [2253, 1.71],
  [2284, 1.57], [2300, 1.55], [2340, 1.38], [2380, 1.19], [2390, 1.05], [2394, 0.95], [2400, 0.92],
  [2500, 0.72], [2600, 0.55], [2700, 0.41], [2800, 0.28], [2900, 0.19], [3000, 0.11], [3016, 0.1],
]

const radCloudySw: Pt[] = [
  [1800, 9.5], [1801, 9.0], [1803, 9.1], [1805, 8.75], [1807, 8.7], [1809, 8.85], [1811, 8.8],
  [1813, 8.35], [1815, 8.15], [1818, 8.4], [1820, 8.15], [1822, 8.3], [1824, 8.4], [1826, 8.5],
  [1828, 8.2], [1830, 8.35], [1832, 8.1], [1834, 7.9], [1836, 8.05], [1838, 8.0], [1841, 7.75],
  [1843, 7.8], [1845, 7.95], [1847, 7.7], [1849, 7.6], [1851, 7.25], [1854, 7.1], [1856, 7.3],
  [1859, 7.45], [1861, 7.05], [1863, 6.95], [1865, 7.1], [1867, 7.2], [1869, 7.25], [1872, 7.1],
  [1874, 6.75], [1876, 6.55], [1879, 6.65], [1882, 6.4], [1885, 6.75], [1887, 6.45], [1890, 6.75],
  [1892, 6.4], [1895, 6.65], [1897, 6.3], [1899, 6.05], [1901, 5.95], [1904, 6.3], [1907, 5.95],
  [1909, 6.3], [1911, 6.05], [1913, 5.85], [1916, 5.95], [1918, 6.1], [1920, 6.05], [1922, 5.95],
  [1924, 5.65], [1926, 5.45], [1930, 5.3], [1933, 5.65], [1935, 5.25], [1938, 5.3], [1940, 5.4],
  [1942, 5.65], [1944, 5.45], [1946, 5.5], [1948, 5.05], [1952, 4.9], [1955, 5.35], [1957, 4.9],
  [1959, 4.75], [1962, 5.15], [1964, 4.75], [1967, 5.15], [1970, 4.6], [1974, 4.42], [1977, 4.7],
  [1979, 4.35], [1982, 4.4], [1986, 4.35], [1989, 4.75], [1992, 4.65], [1995, 4.2], [1999, 4.0],
  [2003, 4.0], [2005, 3.95], [2007, 4.3], [2009, 3.95], [2011, 3.9], [2014, 3.9], [2017, 4.35],
  [2020, 3.8], [2023, 4.1], [2025, 3.8], [2027, 3.75], [2030, 3.6], [2032, 3.55], [2035, 3.55],
  [2038, 3.7], [2040, 3.55], [2042, 3.95], [2044, 3.6], [2046, 3.5], [2050, 3.4], [2053, 3.35],
  [2056, 3.35], [2058, 3.32], [2060, 3.6], [2062, 3.3], [2064, 3.3], [2066, 3.6], [2069, 3.15],
  [2072, 3.1], [2074, 3.35], [2076, 3.05], [2080, 3.0], [2083, 3.05], [2086, 3.0], [2088, 3.3],
  [2090, 2.95], [2094, 2.92], [2097, 2.98], [2099, 2.85], [2101, 2.8], [2104, 2.75], [2107, 2.7],
  [2110, 2.7], [2113, 2.68], [2115, 2.95], [2117, 2.65], [2119, 2.6], [2122, 2.6], [2124, 2.72],
  [2126, 2.56], [2130, 2.52], [2133, 2.5], [2136, 2.62], [2138, 2.45], [2140, 2.5], [2142, 2.4],
  [2146, 2.36], [2149, 2.3], [2152, 2.32], [2155, 2.28], [2158, 2.26], [2160, 2.24], [2162, 2.36],
  [2164, 2.22], [2168, 2.2], [2172, 2.18], [2176, 2.15], [2180, 2.12], [2184, 2.1], [2188, 2.08],
  [2192, 2.04], [2196, 2.02], [2200, 2.0], [2205, 1.98], [2210, 1.96], [2215, 1.92], [2220, 1.86],
  [2224, 1.82], [2230, 1.83], [2236, 1.82], [2242, 1.8], [2248, 1.77], [2253, 1.74], [2260, 1.72],
  [2266, 1.69], [2273, 1.65], [2279, 1.62], [2284, 1.6], [2290, 1.6], [2296, 1.58], [2300, 1.58],
  [2310, 1.55], [2320, 1.5], [2330, 1.46], [2340, 1.41], [2350, 1.36], [2360, 1.32], [2370, 1.27],
  [2380, 1.22], [2386, 1.18], [2390, 1.08], [2394, 0.97], [2400, 0.94], [2420, 0.9], [2440, 0.86],
  [2460, 0.81], [2480, 0.77], [2500, 0.74], [2520, 0.71], [2540, 0.67], [2560, 0.63], [2580, 0.6],
  [2600, 0.57], [2620, 0.55], [2640, 0.52], [2660, 0.48], [2680, 0.45], [2700, 0.43], [2720, 0.41],
  [2740, 0.39], [2760, 0.35], [2780, 0.32], [2800, 0.3], [2820, 0.28], [2840, 0.26], [2860, 0.24],
  [2880, 0.22], [2900, 0.2], [2920, 0.18], [2940, 0.16], [2960, 0.14], [2980, 0.13], [3000, 0.12],
  [3016, 0.11],
]

const hourTicks = [0, 5, 10, 15, 20]
const lwTicks = [600, 800, 1000, 1200, 1400, 1600, 1800]
const swTicks = [1800, 2000, 2200, 2400, 2600, 2800, 3000]

// layout (page pixels of the 3825 x 6000 figure)
const PAGE_W = 3825
const PAGE_H = 6000
const PLOT_LEFT = 375
const PLOT_RIGHT = 3003
const PLOT_H = 904
const PAD_TOP = 100
const PAD_BOTTOM = 300
const X_AXIS_H = 60
const Y_AXIS_W = 100
const TICK_GAP = 30
const TICK_LEN = 27
const FONT = 'DejaVu Sans, Verdana, sans-serif'
const BLUE_TXT = '#0072BD'
const AXIS_BLUE = '#2f7fae'
const DARK = '#262626'

const toRows = (pts: Pt[]) => pts.map(([x, y]) => ({ x, y }))
const stepRows = (vals: (number | null)[]) =>
  vals.map((y, i) => ({ x: Math.round(i * P3_STEP * 10) / 10, y }))

const YTick = (props: any) => {
  const { x, y, payload } = props
  const ax = x + TICK_GAP
  return (
    <g>
      <line x1={ax} x2={ax + TICK_LEN} y1={y} y2={y} stroke={AXIS_BLUE} strokeWidth={2.5} />
      <text x={x} y={y + 13} textAnchor="end" fill={BLUE_TXT} fontSize={37} fontFamily={FONT}>
        {payload.value}
      </text>
    </g>
  )
}

const XTick = (props: any) => {
  const { x, y, payload } = props
  return (
    <g>
      <line x1={x} x2={x} y1={y} y2={y - TICK_LEN} stroke={DARK} strokeWidth={2.5} />
      <text x={x} y={y + 66} textAnchor="middle" fill={DARK} fontSize={37} fontFamily={FONT}>
        {payload.value}
      </text>
    </g>
  )
}

const XMark = ({ cx, cy }: { cx: number; cy: number }) => (
  <g stroke="#FFA500" strokeWidth={4}>
    <line x1={cx - 10} y1={cy - 10} x2={cx + 10} y2={cy + 10} />
    <line x1={cx - 10} y1={cy + 10} x2={cx + 10} y2={cy - 10} />
  </g>
)

const firstPointMark = (p: any) =>
  p.index === 0 ? <XMark key="mark" cx={p.cx} cy={p.cy} /> : <g key={'d' + p.index} />

interface SeriesDef {
  rows: { x: number; y: number | null }[]
  color: string
  width: number
  dot?: any
}

interface PanelProps {
  top: number
  xDomain: [number, number]
  yDomain: [number, number]
  xTicks: number[]
  yTicks: number[]
  series: SeriesDef[]
  shade?: boolean
}

function Panel({ top, xDomain, yDomain, xTicks, yTicks, series, shade }: PanelProps) {
  const h = PLOT_H + PAD_TOP + PAD_BOTTOM
  return (
    <div style={{ position: 'absolute', left: 0, top: top - PAD_TOP, width: PAGE_W, height: h }}>
      <LineChart
        width={PAGE_W}
        height={h}
        margin={{ top: PAD_TOP, right: PAGE_W - PLOT_RIGHT, bottom: PAD_BOTTOM - X_AXIS_H, left: PLOT_LEFT - Y_AXIS_W }}
      >
        <XAxis
          dataKey="x"
          type="number"
          domain={xDomain}
          ticks={xTicks}
          interval={0}
          allowDataOverflow
          height={X_AXIS_H}
          tickLine={false}
          tickSize={0}
          tickMargin={0}
          tick={XTick}
          axisLine={{ stroke: DARK, strokeWidth: 3 }}
        />
        <YAxis
          type="number"
          domain={yDomain}
          ticks={yTicks}
          interval={0}
          allowDataOverflow
          width={Y_AXIS_W}
          tickLine={false}
          tickSize={0}
          tickMargin={TICK_GAP}
          tick={YTick}
          axisLine={{ stroke: AXIS_BLUE, strokeWidth: 3 }}
        />
        {series.map((s, i) => (
          <Line
            key={i}
            data={s.rows}
            dataKey="y"
            type="linear"
            stroke={s.color}
            strokeWidth={s.width}
            strokeLinejoin="round"
            dot={s.dot ?? false}
            activeDot={false}
            connectNulls={false}
            isAnimationActive={false}
          />
        ))}
        {shade && (
          <ReferenceArea x1={0} x2={8.5} fill="#ffff00" fillOpacity={0.14} stroke="none" zIndex={450} />
        )}
        {shade && (
          <ReferenceArea x1={19.82} x2={24} fill="#ffff00" fillOpacity={0.14} stroke="none" zIndex={450} />
        )}
        <ReferenceLine x={xDomain[1]} stroke={AXIS_BLUE} strokeWidth={3} />
      </LineChart>
    </div>
  )
}

interface LegendItem {
  color: string
  width: number
  label: React.ReactNode
  mark?: boolean
}

function LegendBox({ x1, x2, tx, rows, items }: { x1: number; x2: number; tx: number; rows: number[]; items: LegendItem[] }) {
  return (
    <g>
      {items.map((it, i) => (
        <g key={i}>
          <line x1={x1} x2={x2} y1={rows[i]} y2={rows[i]} stroke={it.color} strokeWidth={it.width} />
          {it.mark && <XMark cx={(x1 + x2) / 2} cy={rows[i]} />}
          <text x={tx} y={rows[i] + 14} fontSize={39.5} fill="#000">
            {it.label}
          </text>
        </g>
      ))}
    </g>
  )
}

const Sup = ({ children, size = 28, rise = 17 }: { children: React.ReactNode; size?: number; rise?: number }) => (
  <>
    <tspan dy={-rise} fontSize={size}>
      {children}
    </tspan>
    <tspan dy={rise}>{'\u200a'}</tspan>
  </>
)

function YLabel({ x, y, children }: { x: number; y: number; children: React.ReactNode }) {
  return (
    <text transform={`translate(${x},${y}) rotate(-90)`} textAnchor="middle" fontSize={46} fill={BLUE_TXT}>
      {children}
    </text>
  )
}

function XLabel({ y, children }: { y: number; children: React.ReactNode }) {
  return (
    <text x={(PLOT_LEFT + PLOT_RIGHT) / 2} y={y} textAnchor="middle" fontSize={47.5} fill={DARK}>
      {children}
    </text>
  )
}

function Overlay() {
  return (
    <svg
      width={PAGE_W}
      height={PAGE_H}
      style={{ position: 'absolute', left: 0, top: 0, pointerEvents: 'none' }}
      fontFamily={FONT}
    >
      <YLabel x={239} y={750}>
        AERI 985-900 cm<Sup size={32} rise={18}>-1</Sup> (Window) BT
      </YLabel>
      <YLabel x={237} y={1871}>Zenith BTs, K</YLabel>
      <YLabel x={199} y={2995}>Zenith BTs, K</YLabel>
      <YLabel x={237} y={4124}>
        Mean Radiance, mW/(m<Sup size={34} rise={18}>2</Sup> sr cm<Sup size={34} rise={12}>-1</Sup>)
      </YLabel>
      <YLabel x={284} y={5249}>
        Mean Radiance, mW/(m<Sup size={34} rise={18}>2</Sup> sr cm<Sup size={34} rise={12}>-1</Sup>)
      </YLabel>

      <XLabel y={1337}>UTC hours on 20241129</XLabel>
      <XLabel y={2457}>UTC hours on 20241129</XLabel>
      <XLabel y={3582}>UTC hours on 20241129</XLabel>
      <XLabel y={4716}>
        Wavenumber, cm<Sup size={34} rise={18}>-1</Sup>
      </XLabel>
      <XLabel y={5840}>
        Wavenumber, cm<Sup size={34} rise={18}>-1</Sup>
      </XLabel>

      <LegendBox
        x1={527}
        x2={757}
        tx={783}
        rows={[876, 942, 1010, 1078]}
        items={[
          { color: '#A52A2A', width: 8, label: <>85<Sup>o</Sup> WRT Nadir</> },
          { color: '#FFA500', width: 8, label: <>95<Sup>o</Sup> WRT Nadir</>, mark: true },
          { color: '#008000', width: 8, label: <>125<Sup>o</Sup> WRT Nadir</> },
          { color: '#0000FF', width: 8, label: <>180<Sup>o</Sup> WRT Nadir</> },
        ]}
      />
      <LegendBox
        x1={1908}
        x2={2143}
        tx={2167}
        rows={[1507, 1570]}
        items={[
          { color: '#0000FF', width: 7, label: <>AERI 985-900 cm<Sup>-1</Sup> (Window)</> },
          { color: '#ADD8E6', width: 4, label: <>AERI 2510-2515 cm<Sup>-1</Sup> (Window)</> },
        ]}
      />
      <LegendBox
        x1={1908}
        x2={2143}
        tx={2167}
        rows={[2671, 2739, 2805, 2873]}
        items={[
          { color: '#FFA500', width: 8, label: <>AERI 675-680 cm<Sup>-1</Sup> (Surf Air)</> },
          { color: '#0000FF', width: 8, label: <>AERI 700-705 cm<Sup>-1</Sup></> },
          { color: '#A52A2A', width: 4, label: <>AERI 2295-2300 cm<Sup>-1</Sup> (Surf Air)</> },
          { color: '#ADD8E6', width: 4, label: <>AERI 2282-2287 cm<Sup>-1</Sup></> },
        ]}
      />
      <LegendBox
        x1={1831}
        x2={2064}
        tx={2089}
        rows={[3737, 3794]}
        items={[
          { color: '#000000', width: 3, label: 'Mean Radiance 0 to 24h UTC 20241129' },
          { color: '#FF0000', width: 3.5, label: '... cloudy' },
        ]}
      />
      <LegendBox
        x1={1831}
        x2={2064}
        tx={2089}
        rows={[4858, 4919]}
        items={[
          { color: '#000000', width: 3, label: 'Mean Radiance 0 to 24h UTC 20241129' },
          { color: '#FF0000', width: 3.5, label: '... cloudy' },
        ]}
      />
    </svg>
  )
}

export default function App() {
  // the browser window may be shorter than the figure; squeeze vertically so the whole figure shows
  const fit = Math.min(1, (window.innerHeight || PAGE_H) / PAGE_H)
  return (
    <div style={{ width: PAGE_W, height: PAGE_H * fit, overflow: 'hidden', background: '#fff' }}>
      <div
        style={{
          position: 'relative',
          width: PAGE_W,
          height: PAGE_H,
          fontFamily: FONT,
          transform: `scale(1, ${fit})`,
          transformOrigin: '0 0',
        }}
      >
        <Panel
          top={298}
          xDomain={[0, 24]}
          yDomain={[239.5, 292.7]}
          xTicks={hourTicks}
          yTicks={[240, 250, 260, 270, 280, 290]}
          shade
          series={[
            { rows: toRows(bt85), color: '#A52A2A', width: 7 },
            { rows: toRows(bt95), color: '#FFA500', width: 7, dot: firstPointMark },
            { rows: toRows(bt125), color: '#008000', width: 6 },
            { rows: toRows(bt180), color: '#0000FF', width: 6 },
          ]}
        />
        <Panel
          top={1419}
          xDomain={[0, 24]}
          yDomain={[251.0, 350.4]}
          xTicks={hourTicks}
          yTicks={[260, 270, 280, 290, 300, 310, 320, 330, 340, 350]}
          shade
          series={[
            { rows: toRows(bt180), color: '#0000FF', width: 7 },
            { rows: toRows(bt2510), color: '#ADD8E6', width: 4 },
          ]}
        />
        <Panel
          top={2543}
          xDomain={[0, 24]}
          yDomain={[287.61, 290.94]}
          xTicks={hourTicks}
          yTicks={[288, 288.5, 289, 289.5, 290, 290.5]}
          shade
          series={[
            { rows: stepRows(bt675), color: '#FFA500', width: 9 },
            { rows: stepRows(bt700), color: '#0000FF', width: 6 },
            { rows: stepRows(bt2295), color: '#A52A2A', width: 3.5 },
            { rows: stepRows(bt2282), color: '#ADD8E6', width: 3.5 },
          ]}
        />
        <Panel
          top={3672}
          xDomain={[520, 1800]}
          yDomain={[2.85, 144.5]}
          xTicks={lwTicks}
          yTicks={[20, 40, 60, 80, 100, 120, 140]}
          series={[
            { rows: toRows(radAllLw), color: '#000000', width: 3 },
            { rows: toRows(radCloudyLw), color: '#FF0000', width: 4 },
          ]}
        />
        <Panel
          top={4797}
          xDomain={[1800, 3016]}
          yDomain={[-0.36, 9.96]}
          xTicks={swTicks}
          yTicks={[0, 1, 2, 3, 4, 5, 6, 7, 8, 9]}
          series={[
            { rows: toRows(radAllSw), color: '#000000', width: 3 },
            { rows: toRows(radCloudySw), color: '#FF0000', width: 4 },
          ]}
        />
        <Overlay />
      </div>
    </div>
  )
}
